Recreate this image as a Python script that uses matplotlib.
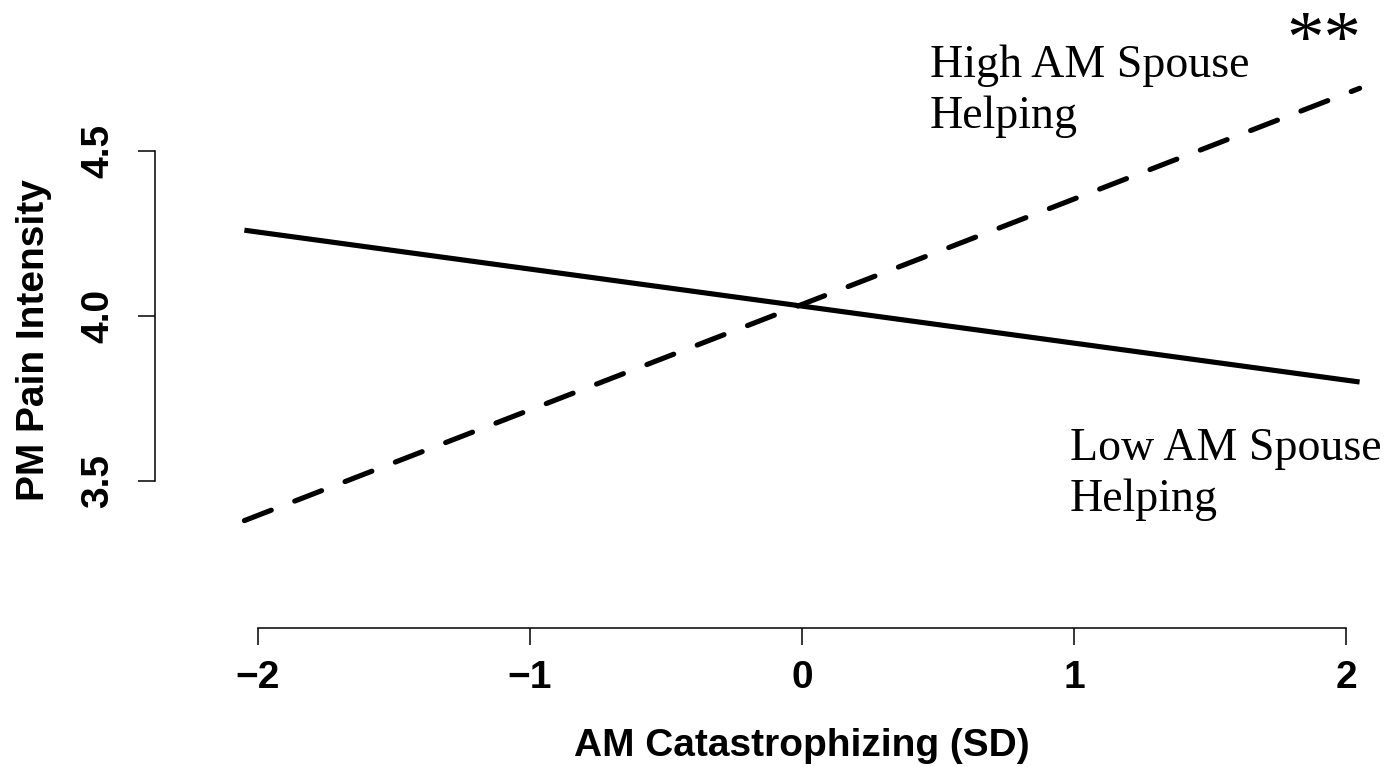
import matplotlib
matplotlib.use('Agg')
import matplotlib.pyplot as plt

# simple slopes at -2 SD / +2 SD of AM catastrophizing
x_sd = [-2.05, 2.05]
low_helping = [4.26, 3.80]
high_helping = [3.38, 4.69]

x_ticks = [-2, -1, 0, 1, 2]
x_ticklabels = ['\u22122', '\u22121', '0', '1', '2']
y_ticks = [3.5, 4.0, 4.5]
y_ticklabels = ['3.5', '4.0', '4.5']

W, H = 1390, 767
fig = plt.figure(figsize=(W / 100, H / 100), dpi=100)
# axes region in pixels: left 155, right 1390, bottom 628, top 0
ax = fig.add_axes([155 / W, (H - 628) / H, (W - 155) / W, 628 / H])
ax.set_xlim(-2 + (155 - 258) / 272, -2 + (W - 258) / 272)
ax.set_ylim(4 - (628 - 316) / 330, 4 + 316 / 330)

ax.plot(x_sd, low_helping, color='black', lw=3.7, solid_capstyle='butt', clip_on=False)
ax.plot(x_sd, high_helping, color='black', lw=3.7, linestyle=(0, (5.6, 4.9)),
        dash_capstyle='round', clip_on=False)

for s in ['top', 'right']:
    ax.spines[s].set_visible(False)
ax.spines['left'].set_bounds(3.5, 4.5)
ax.spines['bottom'].set_bounds(-2, 2)
for s in ['left', 'bottom']:
    ax.spines[s].set_linewidth(1.1)

tick_font = {'family': 'Liberation Sans', 'weight': 'bold', 'size': 28}
ax.set_xticks(x_ticks)
ax.set_xticklabels(x_ticklabels, fontdict=tick_font)
ax.set_yticks(y_ticks)
ax.set_yticklabels(y_ticklabels, fontdict=tick_font, rotation=90, va='center')
ax.tick_params(axis='both', length=12, width=1.1)
ax.tick_params(axis='x', pad=11)
ax.tick_params(axis='y', pad=16)

ax.set_xlabel('AM Catastrophizing (SD)', fontdict=tick_font, labelpad=23)
ax.set_ylabel('PM Pain Intensity', fontdict=tick_font, labelpad=20)
ax.xaxis.label.set_x((802 - 155) / (W - 155))
ax.yaxis.label.set_y((628 - 340) / 628)

serif = {'family': 'Liberation Serif', 'size': 33}
ax.text(0.47, 4.571, 'High AM Spouse\nHelping', fontdict=serif, ha='left', va='baseline',
        linespacing=1.25)
ax.text(0.985, 3.41, 'Low AM Spouse\nHelping', fontdict=serif, ha='left', va='baseline',
        linespacing=1.25)
ax.text(2.055, 4.925, '**', fontdict={'family': 'Liberation Serif', 'size': 54},
        ha='right', va='top')

fig.savefig('out.png', dpi=100)
